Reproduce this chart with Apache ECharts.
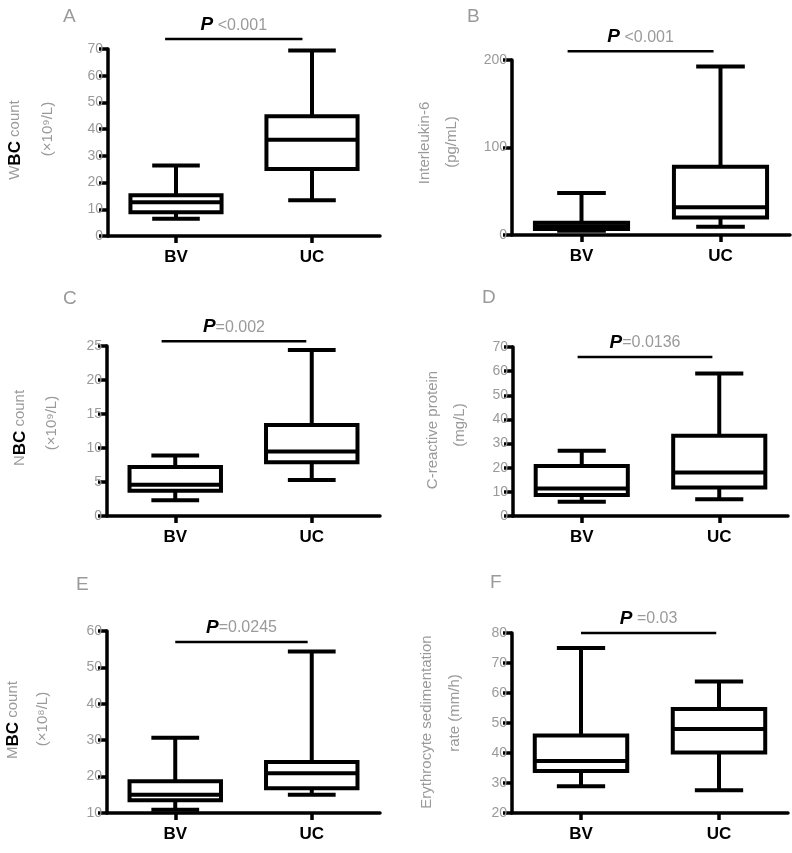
<!DOCTYPE html>
<html><head><meta charset="utf-8">
<script src="https://cdn.jsdelivr.net/npm/echarts@6/dist/echarts.min.js"></script>
<style>html,body{margin:0;padding:0;background:#fff}#c{width:792px;height:853px}</style>
</head><body><div id="c"></div>
<script>
// ---- data ----
const categories = ['BV', 'UC'];
// [min, Q1, median, Q3, max]
const boxA_BV = [6.5, 8.9, 12.6, 15.3, 26.4];
const boxA_UC = [13.4, 25.1, 36.0, 44.8, 69.4];
const boxB_BV = [5, 7, 10, 14, 48];
const boxB_UC = [9.5, 20, 31.7, 78, 192.7];
const boxC_BV = [2.3, 3.7, 4.6, 7.2, 8.9];
const boxC_UC = [5.3, 7.9, 9.5, 13.4, 24.4];
const boxD_BV = [5.9, 8.7, 11.4, 20.7, 27.0];
const boxD_UC = [6.9, 11.8, 18.0, 33.2, 59.0];
const boxE_BV = [10.9, 13.5, 15.0, 18.7, 30.7];
const boxE_UC = [15.0, 16.8, 20.9, 24.0, 54.4];
const boxF_BV = [28.9, 34.0, 37.3, 45.8, 75.0];
const boxF_UC = [27.6, 40.2, 48.0, 54.7, 63.8];
// y axis ticks [min, max, interval]
const ticksA = [0, 70, 10];
const ticksB = [0, 200, 100];
const ticksC = [0, 25, 5];
const ticksD = [0, 70, 10];
const ticksE = [10, 60, 10];
const ticksF = [20, 80, 10];
// significance bar heights (data units) and labels
const sigLevels = [73.7, 210, 25.7, 65.9, 57, 80];
const pTexts = [' <0.001', ' <0.001', '=0.002', '=0.0136', '=0.0245', ' =0.03'];
const panelLetters = ['A', 'B', 'C', 'D', 'E', 'F'];
const titleLine1 = [['W','BC',' count'], ['','','Interleukin-6'], ['N','BC',' count'], ['','','C-reactive protein'], ['M','BC',' count'], ['','','Erythrocyte sedimentation']];
const titleLine2 = ['(×10⁹/L)', '(pg/mL)', '(×10⁹/L)', '(mg/L)', '(×10⁸/L)', 'rate (mm/h)'];

// ---- layout ----
const grids = [
  {left:108, top:49, right:412, bottom:617},
  {left:512, top:60, right:2, bottom:618},
  {left:107, top:346, right:412, bottom:337},
  {left:513, top:347, right:4, bottom:337},
  {left:107, top:631, right:412, bottom:40},
  {left:512, top:633, right:4, bottom:40}
];
const sigOffsets = [[-0.08,-0.07],[-0.1,-0.05],[-0.1,-0.04],[-0.03,-0.05],[0,-0.03],[0,-0.02]];
const letterPos = [[70,17],[474,17],[70,299],[489,298],[83,585],[497,583]];
const titlePos = [[[15,140],[48,129]],[[425,143],[452,142]],[[20,428],[52,423]],[[433,430],[460,425]],[[13,720],[43,719]],[[427,722],[455,713]]];

const boxes = [[boxA_BV,boxA_UC],[boxB_BV,boxB_UC],[boxC_BV,boxC_UC],[boxD_BV,boxD_UC],[boxE_BV,boxE_UC],[boxF_BV,boxF_UC]];
const ticks = [ticksA,ticksB,ticksC,ticksD,ticksE,ticksF];

const FONT = 'Liberation Sans, Arial, sans-serif';
const GREY = '#9a9a9a';

function renderBox(params, api) {
  const cat = api.value(0);
  const mn = api.value(1), q1 = api.value(2), md = api.value(3), q3 = api.value(4), mx = api.value(5);
  const band = api.size([1, 0])[0];
  const bw = band * 0.67, cw = band * 0.35;
  const cx = api.coord([cat, md])[0];
  const yMin = api.coord([cat, mn])[1], yQ1 = api.coord([cat, q1])[1], yMd = api.coord([cat, md])[1];
  const yQ3 = api.coord([cat, q3])[1], yMx = api.coord([cat, mx])[1];
  const st = {stroke:'#000', lineWidth:4, fill:null};
  return {type:'group', children:[
    {type:'line', shape:{x1:cx, y1:yMx, x2:cx, y2:yQ3}, style:st},
    {type:'line', shape:{x1:cx, y1:yQ1, x2:cx, y2:yMin}, style:st},
    {type:'line', shape:{x1:cx-cw/2, y1:yMx, x2:cx+cw/2, y2:yMx}, style:st},
    {type:'line', shape:{x1:cx-cw/2, y1:yMin, x2:cx+cw/2, y2:yMin}, style:st},
    {type:'rect', shape:{x:cx-bw/2, y:yQ3, width:bw, height:yQ1-yQ3}, style:{stroke:'#000', lineWidth:4, fill:'#fff'}},
    {type:'line', shape:{x1:cx-bw/2, y1:yMd, x2:cx+bw/2, y2:yMd}, style:st}
  ]};
}

function makeSigRender(i) {
  return function(params, api) {
    const y = api.value(0);
    const p0 = api.coord([0, y]);
    const p1 = api.coord([1, y]);
    const band = api.size([1, 0])[0];
    const x0 = p0[0] + sigOffsets[i][0] * band;
    const x1 = p1[0] + sigOffsets[i][1] * band;
    return {type:'group', children:[
      {type:'line', shape:{x1:x0, y1:p0[1], x2:x1, y2:p0[1]}, style:{stroke:'#000', lineWidth:2.5}},
      {type:'text', x:(x0+x1)/2, y:p0[1]-14, style:{
        text:'{p|P}{g|' + pTexts[i] + '}', align:'center', verticalAlign:'middle',
        rich:{p:{fontFamily:FONT, fontSize:19, fontWeight:'bold', fontStyle:'italic', fill:'#000'},
              g:{fontFamily:FONT, fontSize:16, fill:GREY}}
      }}
    ]};
  };
}

const option = {
  animation:false,
  backgroundColor:'#fff',
  grid: grids.map(g => Object.assign({containLabel:false}, g)),
  xAxis: grids.map((g, i) => ({
    type:'category', gridIndex:i, data:categories,
    axisLine:{lineStyle:{color:'#000', width:3.5}},
    axisTick:{show:true, alignWithLabel:true, length:7, lineStyle:{color:'#000', width:3.5}},
    axisLabel:{color:'#000', fontFamily:FONT, fontSize:17, fontWeight:'bold', margin:13},
    splitLine:{show:false}
  })),
  yAxis: grids.map((g, i) => ({
    type:'value', gridIndex:i, min:ticks[i][0], max:ticks[i][1], interval:ticks[i][2],
    axisLine:{show:true, onZero:false, lineStyle:{color:'#000', width:3.5}},
    axisTick:{show:true, length:9, lineStyle:{color:'#000', width:3.5}},
    axisLabel:{color:GREY, fontFamily:FONT, fontSize:14, margin:5},
    splitLine:{show:false}
  })),
  series: [],
  graphic: []
};

for (let i = 0; i < 6; i++) {
  option.series.push({
    type:'custom', xAxisIndex:i, yAxisIndex:i, renderItem:renderBox, clip:false,
    encode:{x:0, y:[1,2,3,4,5]},
    data: boxes[i].map((b, k) => [k].concat(b))
  });
  option.series.push({
    type:'custom', xAxisIndex:i, yAxisIndex:i, renderItem:makeSigRender(i), clip:false,
    encode:{y:0},
    data:[[sigLevels[i]]]
  });
  option.graphic.push({type:'text', left:letterPos[i][0]-7, top:letterPos[i][1]-10,
    style:{text:panelLetters[i], fontFamily:FONT, fontSize:19, fill:GREY}});
  const l1 = titleLine1[i];
  option.graphic.push({type:'text', x:titlePos[i][0][0], y:titlePos[i][0][1], rotation:Math.PI/2,
    style:{text:(l1[0]?'{g|'+l1[0]+'}':'') + (l1[1]?'{b|'+l1[1]+'}':'') + '{g|'+l1[2]+'}',
      align:'center', verticalAlign:'middle',
      rich:{g:{fontFamily:FONT, fontSize:15, fill:GREY}, b:{fontFamily:FONT, fontSize:17, fontWeight:'bold', fill:'#000'}}}});
  option.graphic.push({type:'text', x:titlePos[i][1][0], y:titlePos[i][1][1], rotation:Math.PI/2,
    style:{text:titleLine2[i], align:'center', verticalAlign:'middle', fontFamily:FONT, fontSize:15, fill:GREY}});
}

const chart = echarts.init(document.getElementById('c'), null, {renderer:'canvas'});
chart.setOption(option);
</script></body></html>
